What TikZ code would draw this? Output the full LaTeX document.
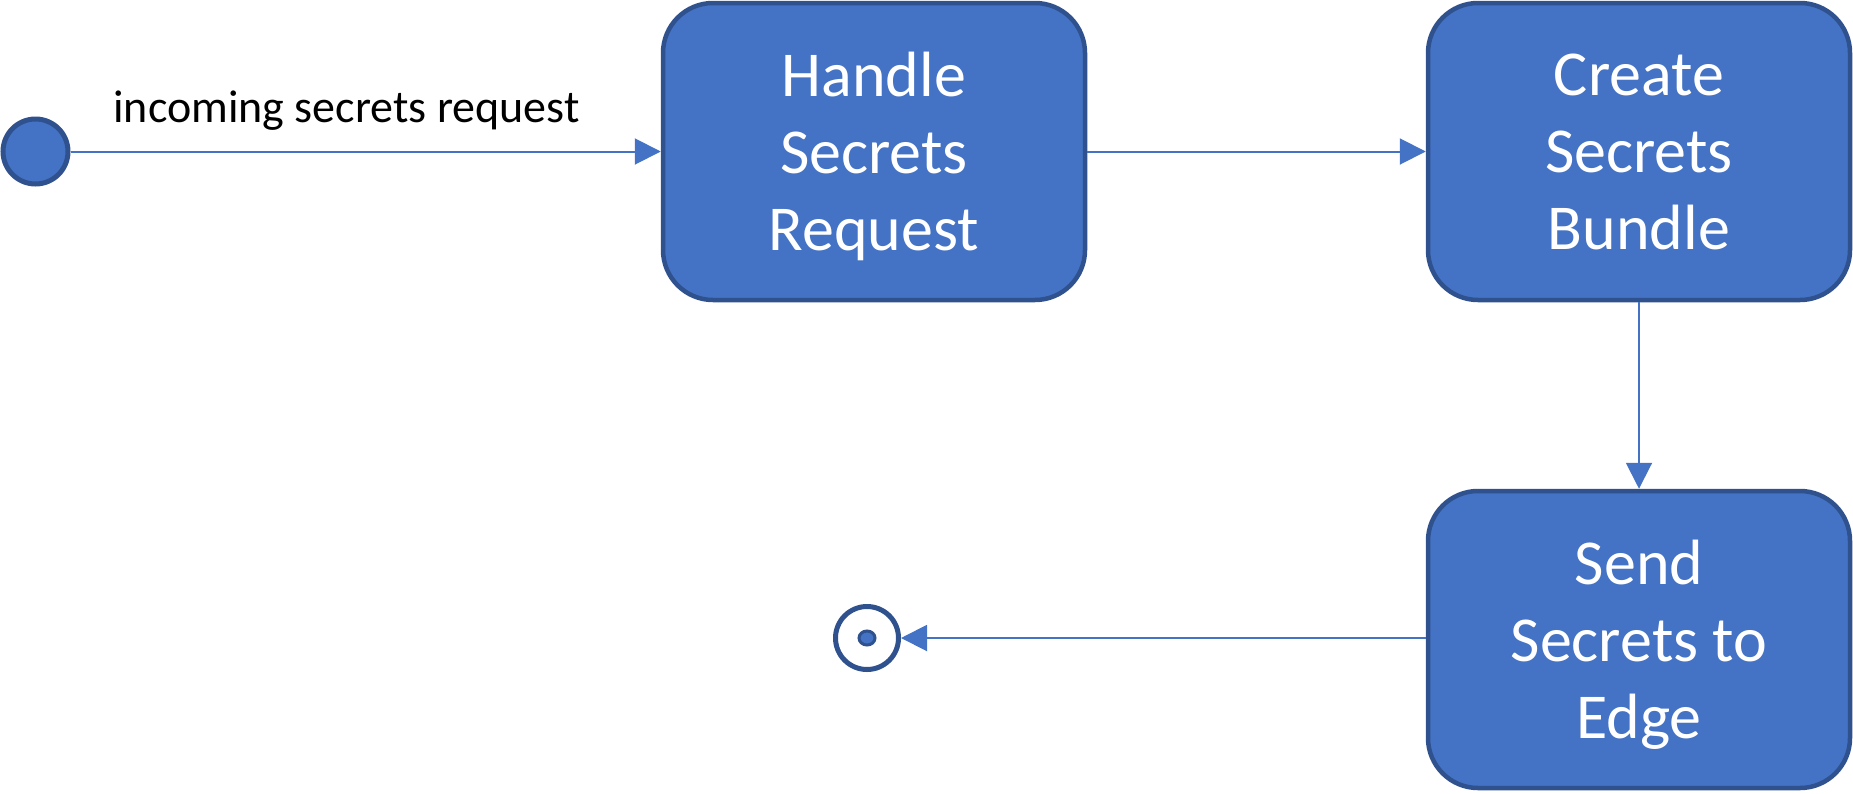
\documentclass[tikz,border=0pt]{standalone}
\usepackage{fontspec}
\setmainfont{Carlito}
\usetikzlibrary{arrows.meta,shapes.geometric}
\definecolor{fillblue}{HTML}{4472C4}
\definecolor{edgeblue}{HTML}{2F528F}
\begin{document}
\begin{tikzpicture}[x=1pt,y=-1pt,
  statebox/.style={draw=edgeblue, fill=fillblue, line width=4.5pt, rounded corners=50pt,
    minimum width=422pt, minimum height=297pt, inner sep=0pt, text=white, align=center,
    text depth=0pt, font=\fontsize{64}{77}\selectfont},
  conn/.style={draw=fillblue, line width=2pt, -{Triangle[length=26pt,width=26pt]}},
  lbl/.style={font=\fontsize{46}{55}\selectfont, text=black, inner sep=0pt}]
\useasboundingbox (0,0) rectangle (1853,793);
\node[circle, draw=edgeblue, fill=fillblue, line width=5pt, minimum size=65pt, inner sep=0pt] (start) at (35.5,151.5) {};
\node[statebox] (handle) at (874,151.5) {Handle\\Secrets\\Request};
\node[statebox] (create) at (1639,151.5) {Create\\Secrets\\Bundle};
\node[statebox] (send) at (1639,639.5) {Send\\Secrets to\\Edge};
\node[circle, draw=edgeblue, fill=white, line width=5pt, minimum size=63pt, inner sep=0pt] (final) at (867,638) {};
\node[ellipse, draw=edgeblue, fill=fillblue, line width=3pt, minimum width=16pt, minimum height=14pt, inner sep=0pt] (finaldot) at (final.center) {};
\node[lbl, anchor=base] (inlabel) at (346.5,122.5) {incoming secrets request};
\draw[conn] (start) -- (handle);
\draw[conn] (handle) -- (create);
\draw[conn] (create) -- (send);
\draw[conn] (send.west |- final) -- (final);
\end{tikzpicture}
\end{document}
